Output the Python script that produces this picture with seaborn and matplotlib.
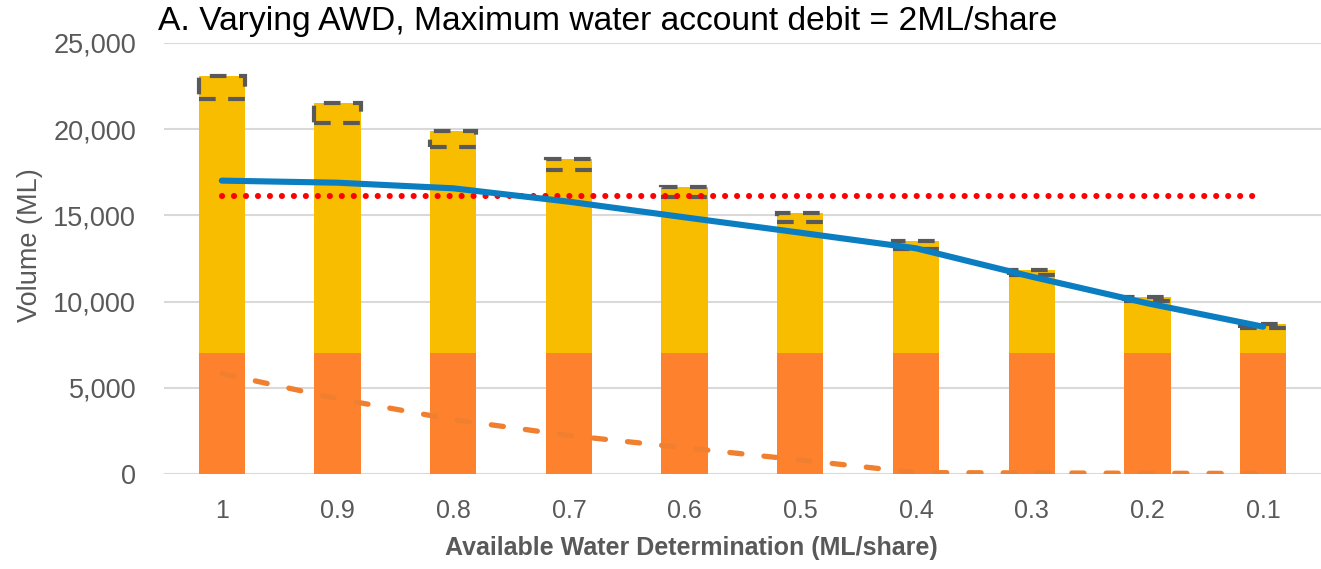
import numpy as np
import pandas as pd
import matplotlib
matplotlib.use("Agg")
import matplotlib.pyplot as plt
import seaborn as sns
from matplotlib.ticker import FuncFormatter

# Values (ML)
awd_labels = ["1", "0.9", "0.8", "0.7", "0.6", "0.5", "0.4", "0.3", "0.2", "0.1"]
base_volume = [7000, 7000, 7000, 7000, 7000, 7000, 7000, 7000, 7000, 7000]
yellow_top = [21720, 20330, 18940, 17625, 16080, 14615, 13035, 11545, 10040, 8490]
dashed_top = [23090, 21525, 19885, 18265, 16660, 15135, 13515, 11835, 10290, 8690]
blue_line = [17010, 16890, 16565, 15790, 14885, 13995, 13090, 11445, 9905, 8550]
orange_dashed = [5830, 4380, 3170, 2250, 1540, 830, 100, 80, 60, 50]
red_limit = [16120] * len(awd_labels)

ORANGE = "#FE822E"
YELLOW = "#F9BD00"
BLUE = "#0B7DC1"
GREY = "#595959"

sns.set_theme(style="white")
plt.rcParams["font.family"] = ["Liberation Sans", "DejaVu Sans"]

df = pd.DataFrame({"awd": awd_labels, "top": dashed_top, "base": base_volume})
x_pos = np.arange(len(awd_labels))

fig = plt.figure(figsize=(13.21, 5.69), dpi=100)
ax = fig.add_axes([0.1241, 0.1664, 0.8759, 0.7586])

# stacked bars: yellow full height, orange base on top of it
sns.barplot(data=df, x="awd", y="top", color=YELLOW, width=0.4, linewidth=0,
            saturation=1, errorbar=None, ax=ax, zorder=2)
sns.barplot(data=df, x="awd", y="base", color=ORANGE, width=0.4, linewidth=0,
            saturation=1, errorbar=None, ax=ax, zorder=2)

# dashed outline segment at the top of each bar
seg = np.array(dashed_top) - np.array(yellow_top)
ax.bar(x_pos, seg, bottom=yellow_top, width=0.4, fill=False,
       edgecolor=GREY, linewidth=3, linestyle=(0, (4, 3)), zorder=3)

n = len(ax.lines)
sns.lineplot(x=x_pos, y=red_limit, color="#FF0000", ax=ax, zorder=4)
red = ax.lines[n]
red.set_linewidth(4.4)
red.set_linestyle((0, (0.01, 1.95)))
red.set_dash_capstyle("round")

n = len(ax.lines)
sns.lineplot(x=x_pos, y=orange_dashed, color="#F0802F", ax=ax, zorder=4)
ax.lines[n].set_linewidth(3.8)
ax.lines[n].set_linestyle((0, (2.3, 4.2)))
ax.lines[n].set_dash_capstyle("round")

n = len(ax.lines)
sns.lineplot(x=x_pos, y=blue_line, color=BLUE, ax=ax, zorder=5)
ax.lines[n].set_linewidth(4.4)
ax.lines[n].set_solid_capstyle("round")

ax.set_xlim(-0.5, 9.5)
ax.set_ylim(0, 25000)
ax.set_yticks(range(0, 25001, 5000))
ax.yaxis.set_major_formatter(FuncFormatter(lambda v, p: f"{int(v):,}"))
ax.grid(axis="y", color="#D9D9D9", lw=1.5, zorder=0)
ax.set_axisbelow(True)
for s in ax.spines.values():
    s.set_visible(False)

ax.tick_params(axis="both", length=0, labelcolor=GREY)
ax.tick_params(axis="x", labelsize=18, pad=18)
ax.tick_params(axis="y", labelsize=19.5, pad=20)

ax.set_xlabel("Available Water Determination (ML/share)", fontsize=18,
              fontweight="bold", color=GREY)
ax.xaxis.set_label_coords(0.456, -0.143)
ax.set_ylabel("Volume (ML)", fontsize=19.5, color=GREY)
ax.yaxis.set_label_coords(-0.1046, 0.53)

fig.text(158 / 1321, 1 - 30 / 569, "A. Varying AWD, Maximum water account debit = 2ML/share",
         fontsize=24.2, color="black", va="baseline", ha="left")

fig.savefig("out.png", dpi=100)
